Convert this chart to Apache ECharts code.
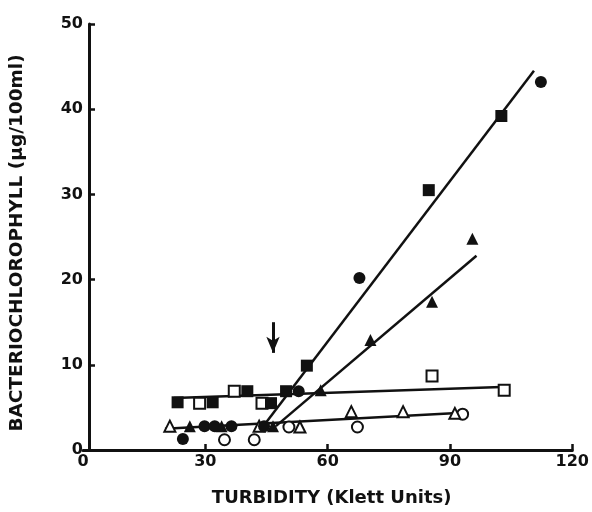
<!DOCTYPE html>
<html>
<head>
<meta charset="utf-8">
<script src="https://cdn.jsdelivr.net/npm/echarts@6/dist/echarts.min.js"></script>
<style>
  html, body { margin: 0; padding: 0; background: #fff; }
  #chart { width: 592px; height: 512px; }
</style>
</head>
<body>
<div id="chart"></div>
<script>
// axis ticks
const xTicks = [0, 30, 60, 90, 120];
const yTicks = [0, 10, 20, 30, 40, 50];

// points: [turbidity, bchl]
const filledSquares = [[23.2, 5.6], [31.8, 5.6], [40.3, 6.9], [46.1, 5.5], [49.8, 6.9], [54.9, 9.9], [84.8, 30.5], [102.6, 39.2]];
const openSquares = [[28.6, 5.5], [37.1, 6.9], [43.9, 5.5], [85.6, 8.7], [103.3, 7.0]];
const filledCircles = [[24.5, 1.3], [29.8, 2.8], [32.3, 2.8], [36.4, 2.8], [44.4, 2.8], [52.9, 6.9], [67.8, 20.2], [112.3, 43.2]];
const openCircles = [[34.7, 1.2], [42.0, 1.2], [50.5, 2.7], [67.3, 2.7], [93.1, 4.2]];
const filledTriangles = [[26.2, 2.8], [34.0, 2.8], [46.6, 2.8], [58.3, 7.0], [70.5, 12.9], [85.6, 17.4], [95.5, 24.8]];
const openTriangles = [[21.3, 2.8], [43.2, 2.8], [53.2, 2.7], [65.8, 4.5], [78.5, 4.5], [91.2, 4.3]];

// fitted lines (end points)
const steepLine = [[44.2, 2.8], [110.6, 44.5]];
const midLine = [[47.3, 2.8], [96.5, 22.8]];
const upperFlat = [[22.3, 6.1], [102.6, 7.4]];
const lowerFlat = [[20.1, 2.5], [90.7, 4.3]];

// arrow marking the onset
const arrow = [[46.6, 15.0], [46.6, 11.4]];

const FONT = 'DejaVu Sans';
const INK = '#111';

const chart = echarts.init(document.getElementById('chart'));

const lineSeries = (data) => ({
  type: 'line', data, showSymbol: false, silent: true, z: 2,
  lineStyle: { color: INK, width: 2.5 }, animation: false
});
const filled = (data, symbol, size) => ({
  type: 'scatter', data, symbol, symbolSize: size, z: 3,
  itemStyle: { color: INK, opacity: 1 }, animation: false
});
const hollow = (data, symbol, size) => ({
  type: 'scatter', data, symbol, symbolSize: size, z: 3,
  itemStyle: { color: '#fff', borderColor: INK, borderWidth: 2, opacity: 1 }, animation: false
});

chart.setOption({
  backgroundColor: '#fff',
  grid: { left: 80.5, right: 19, top: 24, bottom: 62 },
  xAxis: {
    type: 'value', min: xTicks[0], max: xTicks[xTicks.length - 1], interval: 30,
    name: 'TURBIDITY (Klett Units)', nameLocation: 'middle', nameGap: 39,
    nameTextStyle: { fontFamily: FONT, fontWeight: 'bold', fontSize: 18, color: INK, padding: [0, 0, 0, 8] },
    axisLine: { lineStyle: { color: INK, width: 3 } },
    axisTick: { inside: true, length: 6, lineStyle: { color: INK, width: 2.5 }, customValues: xTicks.slice(1) },
    axisLabel: { fontFamily: FONT, fontWeight: 'bold', fontSize: 16, color: INK, margin: 4 },
    splitLine: { show: false }
  },
  yAxis: {
    type: 'value', min: yTicks[0], max: yTicks[yTicks.length - 1], interval: 10, offset: -6,
    name: 'BACTERIOCHLOROPHYLL (µg/100ml)', nameLocation: 'middle', nameGap: 62,
    nameTextStyle: { fontFamily: FONT, fontWeight: 'bold', fontSize: 18.5, color: INK, padding: [0, 12, 0, 0] },
    axisLine: { lineStyle: { color: INK, width: 3 } },
    axisTick: { inside: true, length: 6, lineStyle: { color: INK, width: 2.5 }, customValues: yTicks.slice(1) },
    axisLabel: { fontFamily: FONT, fontWeight: 'bold', fontSize: 16, color: INK, margin: 6 },
    splitLine: { show: false }
  },
  series: [
    lineSeries(steepLine),
    lineSeries(midLine),
    lineSeries(upperFlat),
    lineSeries(lowerFlat),
    {
      type: 'line', data: [], silent: true,
      markLine: {
        silent: true, symbol: ['none', 'arrow'], symbolSize: [10, 16], animation: false,
        label: { show: false },
        lineStyle: { color: INK, width: 3, type: 'solid' },
        data: [[{ coord: arrow[0] }, { coord: arrow[1] }]]
      }
    },
    hollow(openSquares, 'rect', 11),
    hollow(openCircles, 'circle', 11),
    hollow(openTriangles, 'triangle', 11),
    filled(filledSquares, 'rect', 12),
    filled(filledCircles, 'circle', 12),
    filled(filledTriangles, 'triangle', 12)
  ]
});
</script>
</body>
</html>
